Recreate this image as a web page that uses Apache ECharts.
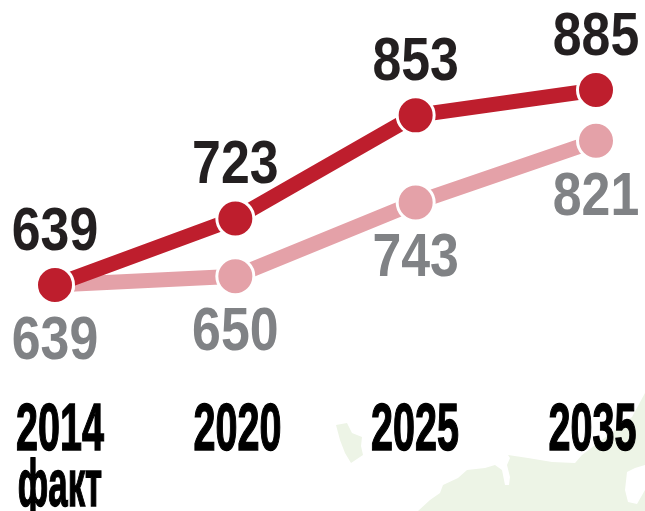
<!DOCTYPE html>
<html><head><meta charset="utf-8">
<style>html,body{margin:0;padding:0;background:#fff}#c{width:645px;height:511px}</style>
<script src="https://cdn.jsdelivr.net/npm/echarts@6/dist/echarts.min.js"></script>
</head><body><div id="c"></div>
<script>
var years = ['2014','2020','2025','2035'];
var actual = [639,723,853,885];
var lower = [639,650,743,821];
var subLabels = ['факт','','',''];
var RED='#be1e2d', PINK='#e4a1a8', LAND='#edf4e6';
var chart = echarts.init(document.getElementById('c'),null,{renderer:'canvas'});
var FONT='"Liberation Sans",sans-serif';
function line(name,data,color,z){
  return {type:'line',name:name,data:data,z:z,symbol:'circle',symbolSize:37,showSymbol:true,
    lineStyle:{color:color,width:15,cap:'butt'},
    itemStyle:{color:color,borderColor:'#fff',borderWidth:3,opacity:1},
    animation:false,emphasis:{disabled:true}};
}
function valueLabels(name,data,fill,dy){
  return {type:'custom',name:name,silent:true,clip:false,z:5,animation:false,
    data:data.map(function(v,i){return [i,v];}),
    renderItem:function(p,api){
      var c=api.coord([api.value(0),api.value(1)]);
      return {type:'text',x:c[0],y:c[1]+dy,scaleX:0.85,scaleY:1,
        style:{text:String(api.value(1)),fill:fill,font:'bold 61px '+FONT,textAlign:'center',textVerticalAlign:'middle'}};
    }};
}
var island=[[336,425],[347,423],[352,433],[362,437],[361,446],[363,455],[351,463],[345,453],[340,440]];
var main=[[418,511],[430,500],[440,493],[443,485],[458,478],[467,470],[485,468],[495,465],[502,470],[505,485],[509,485],[510,477],[507,465],[510,458],[508,455],[528,458],[552,462],[575,463],[582,455],[632,417],[645,393],[645,465],[635,468],[627,472],[625,490],[628,502],[637,504],[645,490],[645,511]];
function axisText(c,txt,dy,sx){
  return {type:'text',x:c[0],y:c[1]+dy,scaleX:sx,scaleY:1,
    style:{text:txt,fill:'#000',stroke:'#000',lineWidth:1.5,font:'bold 67px '+FONT,textAlign:'center',textVerticalAlign:'middle'}};
}
chart.setOption({
  animation:false,
  grid:[{left:55,right:49,top:78.1,height:317.1},{left:60,right:52.5,top:78.1,height:317.1}],
  xAxis:[
    {type:'category',gridIndex:0,boundaryGap:false,data:years,show:false},
    {type:'category',gridIndex:1,boundaryGap:false,data:years,show:false}],
  yAxis:[
    {type:'value',gridIndex:0,min:500,max:900,interval:100,show:false},
    {type:'value',gridIndex:1,min:500,max:900,interval:100,show:false}],
  graphic:[{type:'polygon',silent:true,z:-10,shape:{points:island},style:{fill:LAND}},
           {type:'polygon',silent:true,z:-10,shape:{points:main},style:{fill:LAND}}],
  series:[
    line('lower',lower,PINK,2),
    line('actual',actual,RED,3),
    valueLabels('lowerLabels',lower,'#808285',57),
    valueLabels('actualLabels',actual,'#231f20',-52),
    {type:'custom',name:'axis',xAxisIndex:1,yAxisIndex:1,silent:true,clip:false,z:4,animation:false,
     data:years.map(function(y,i){return [i,500];}),
     renderItem:function(p,api){
       var c=api.coord([api.value(0),api.value(1)]);
       var i=p.dataIndex;
       var kids=[axisText(c,years[i],36,0.59)];
       if(subLabels[i]) kids.push(axisText(c,subLabels[i],92,0.52));
       return {type:'group',children:kids};
     }}
  ]
});
</script></body></html>
